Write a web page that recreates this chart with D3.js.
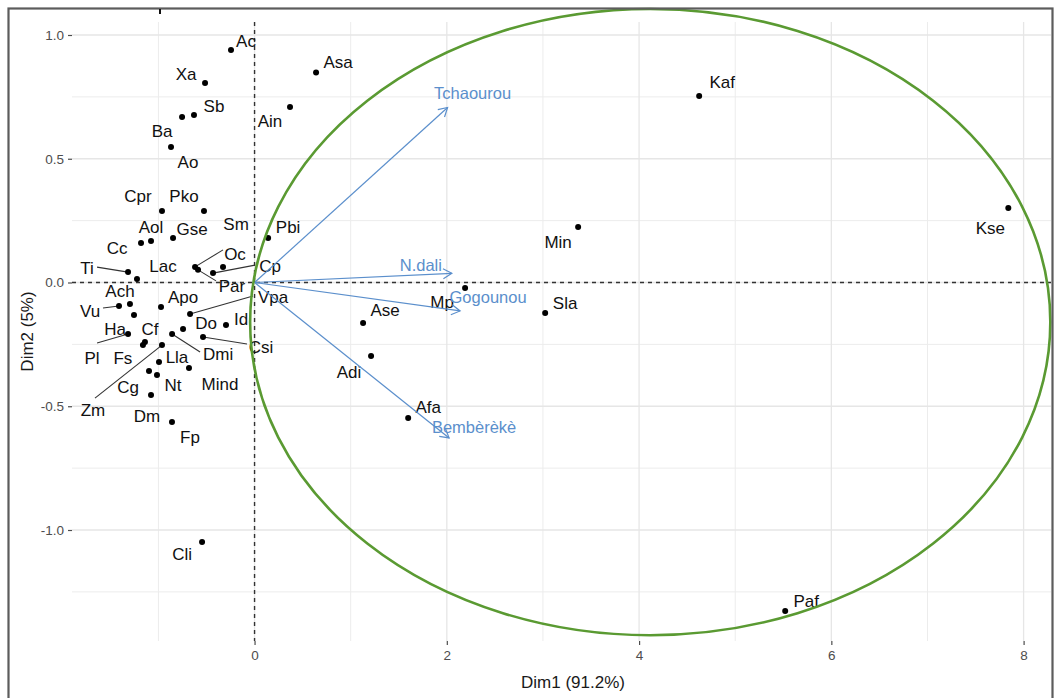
<!DOCTYPE html>
<html>
<head>
<meta charset="utf-8">
<script src="https://cdn.jsdelivr.net/npm/d3@7"></script>
<style>
  html, body { margin: 0; padding: 0; background: #fff; }
  svg { display: block; font-family: "Liberation Sans", Arial, sans-serif; }
</style>
</head>
<body>
<svg id="chart" width="1055" height="698"></svg>
<script>
// ---------------- DATA ----------------
const names = ["Ac","Asa","Xa","Sb","Ba","Ao","Ain","Cpr","Pko","Cc","Aol","Gse","Sm","Lac","Par","Oc","Cp","Ti","Ach","Vu","Ha","Apo","Vpa","Do","Id","Pl","Cf","Fs","Dmi","Csi","Zm","Lla","Cg","Nt","Mind","Dm","Fp","Cli","Pbi","Ase","Adi","Afa","Mp","Sla","Min","Kaf","Kse","Paf"];
const dim1 = [-0.245,0.640,-0.515,-0.630,-0.754,-0.869,0.369,-0.963,-0.526,-1.181,-1.077,-0.848,-0.619,-1.223,-0.588,-0.328,-0.432,-1.316,-1.296,-1.410,-1.254,-0.973,-0.671,-0.744,-0.297,-1.316,-1.140,-1.161,-0.858,-0.536,-0.963,-0.994,-1.098,-1.015,-0.682,-1.077,-0.859,-0.546,0.141,1.129,1.212,1.598,2.190,3.023,3.366,4.625,7.841,5.520];
const dim2 = [0.939,0.848,0.806,0.677,0.669,0.547,0.709,0.289,0.289,0.160,0.168,0.180,0.063,0.014,0.051,0.063,0.038,0.042,-0.087,-0.095,-0.131,-0.099,-0.127,-0.188,-0.172,-0.208,-0.240,-0.253,-0.208,-0.220,-0.253,-0.321,-0.358,-0.374,-0.345,-0.455,-0.564,-1.048,0.180,-0.164,-0.297,-0.547,-0.022,-0.123,0.224,0.754,0.301,-1.327];

const varNames = ["Tchaourou","N.dali","Gogounou","Bembèrèkè"];
const varDim1 = [2.008, 2.052, 2.138, 2.024];
const varDim2 = [0.707, 0.037, -0.115, -0.628];

const xTicks = [0, 2, 4, 6, 8];
const yTicks = [-1.0, -0.5, 0.0, 0.5, 1.0];
const xTickLabels = ["0","2","4","6","8"];
const yTickLabels = ["-1.0","-0.5","0.0","0.5","1.0"];
const xTitle = "Dim1 (91.2%)";
const yTitle = "Dim2 (5%)";

// highlighted group ellipse: centre (dim1, dim2) and radii (dim1, dim2)
const ellipseCentre = [4.116, -0.160];
const ellipseRadii = [4.162, 1.265];

// ---------------- LAYOUT (label placement, pixels relative to point) ----------------
const labelOffset = {
  Ac:[15,-9], Asa:[22,-11], Xa:[-19,-9], Sb:[20,-9], Ba:[-20,14], Ao:[17,15], Ain:[-20,14],
  Cpr:[-24,-15], Pko:[-20,-15], Cc:[-24,5], Aol:[0,-14], Gse:[19,-9], Sm:[41,-43], Lac:[26,-13],
  Par:[34,16], Oc:[12,-13], Cp:[57,-7], Ti:[-41,-4], Ach:[-10,-13], Vu:[-29,5], Ha:[-19,14],
  Apo:[22,-10], Vpa:[83,-17], Do:[23,-6], Id:[15,-6], Pl:[-36,24], Cf:[5,-13], Fs:[-20,13],
  Dmi:[46,20], Csi:[58,10], Zm:[-69,65], Lla:[18,-5], Cg:[-21,16], Nt:[16,10], Mind:[31,16],
  Dm:[-4,21], Fp:[18,15], Cli:[-20,12], Pbi:[20,-11], Ase:[22,-13], Adi:[-22,16], Afa:[20,-11],
  Mp:[-23,14], Sla:[20,-10], Min:[-20,15], Kaf:[23,-14], Kse:[-18,20], Paf:[21,-10]
};
const leaderEnd = {
  Sm:[28,-17], Par:[18,11], Cp:[42,-8], Ti:[-31,-5], Vu:[-16,2], Vpa:[63,-18],
  Pl:[-31,9], Dmi:[28,18], Csi:[44,7], Zm:[-67,53]
};
const varLabelOffset = { "Tchaourou":[25,-14], "N.dali":[-31,-8], "Gogounou":[28,-14], "Bembèrèkè":[25,-11] };

// ---------------- CHART ----------------
const svg = d3.select("#chart");
const panel = {left: 72, right: 1051, top: 22, bottom: 641};

const x = d3.scaleLinear().domain([-1.899, 8.285]).range([panel.left, panel.right]);
const y = d3.scaleLinear().domain([-1.4485, 1.0525]).range([panel.bottom, panel.top]);

// grid
const g = svg.append("g");
const xMinor = d3.range(-1, 9, 1).filter(v => !xTicks.includes(v));
const yMinor = d3.range(-1.25, 1.01, 0.25).filter(v => !yTicks.some(t => Math.abs(t - v) < 1e-6));
g.selectAll(".vminor").data(xMinor).enter().append("line")
  .attr("x1", d => x(d)).attr("x2", d => x(d)).attr("y1", panel.top).attr("y2", panel.bottom)
  .attr("stroke", "#ececec").attr("stroke-width", 1);
g.selectAll(".hminor").data(yMinor).enter().append("line")
  .attr("y1", d => y(d)).attr("y2", d => y(d)).attr("x1", panel.left).attr("x2", panel.right)
  .attr("stroke", "#ececec").attr("stroke-width", 1);
g.selectAll(".vmajor").data(xTicks).enter().append("line")
  .attr("x1", d => x(d)).attr("x2", d => x(d)).attr("y1", panel.top).attr("y2", panel.bottom)
  .attr("stroke", "#e6e6e6").attr("stroke-width", 1.3);
g.selectAll(".hmajor").data(yTicks).enter().append("line")
  .attr("y1", d => y(d)).attr("y2", d => y(d)).attr("x1", panel.left).attr("x2", panel.right)
  .attr("stroke", "#e6e6e6").attr("stroke-width", 1.3);

// axes
const xAxis = d3.axisBottom(x).tickValues(xTicks).tickFormat((d,i) => xTickLabels[i]).tickSize(4).tickPadding(5);
const yAxis = d3.axisLeft(y).tickValues(yTicks).tickFormat((d,i) => yTickLabels[yTicks.indexOf(d)]).tickSize(4).tickPadding(4);
const gx = svg.append("g").attr("transform", `translate(0,${panel.bottom})`).call(xAxis);
const gy = svg.append("g").attr("transform", `translate(${panel.left},0)`).call(yAxis);
[gx, gy].forEach(a => {
  a.select(".domain").remove();
  a.selectAll(".tick line").attr("stroke", "#4d4d4d").attr("stroke-width", 1.2);
  a.selectAll(".tick text").attr("fill", "#4d4d4d").style("font-size", "13.5px")
    .style("font-family", "'Liberation Sans', Arial, sans-serif");
});

// axis titles
svg.append("text").attr("x", 573).attr("y", 688).attr("text-anchor", "middle")
  .style("font-size", "17px").attr("fill", "#1a1a1a").text(xTitle);
svg.append("text").attr("transform", `translate(33,${(panel.top + panel.bottom) / 2}) rotate(-90)`)
  .attr("text-anchor", "middle").style("font-size", "17px").attr("fill", "#1a1a1a").text(yTitle);

// dashed reference lines
svg.append("line").attr("x1", x(0)).attr("x2", x(0)).attr("y1", panel.top).attr("y2", panel.bottom)
  .attr("stroke", "#333").attr("stroke-width", 1.4).attr("stroke-dasharray", "4,4");
svg.append("line").attr("y1", y(0)).attr("y2", y(0)).attr("x1", panel.left).attr("x2", panel.right)
  .attr("stroke", "#333").attr("stroke-width", 1.4).attr("stroke-dasharray", "4,4");

// individuals
const inds = names.map((n, i) => ({name: n, d1: dim1[i], d2: dim2[i]}));

// leader segments
svg.append("g").selectAll("line").data(inds.filter(d => leaderEnd[d.name])).enter().append("line")
  .attr("x1", d => x(d.d1)).attr("y1", d => y(d.d2))
  .attr("x2", d => x(d.d1) + leaderEnd[d.name][0]).attr("y2", d => y(d.d2) + leaderEnd[d.name][1])
  .attr("stroke", "#333").attr("stroke-width", 1.1);

svg.append("g").selectAll("circle").data(inds).enter().append("circle")
  .attr("cx", d => x(d.d1)).attr("cy", d => y(d.d2)).attr("r", 3).attr("fill", "#000");

svg.append("g").selectAll("text").data(inds).enter().append("text")
  .attr("x", d => x(d.d1) + labelOffset[d.name][0])
  .attr("y", d => y(d.d2) + labelOffset[d.name][1])
  .attr("dy", "0.35em").attr("text-anchor", "middle")
  .style("font-size", "17px").attr("fill", "#111").text(d => d.name);

// variable arrows
const arrowColor = "#5b8fcc";
const vars = varNames.map((n, i) => ({name: n, d1: varDim1[i], d2: varDim2[i]}));
const va = svg.append("g");
vars.forEach(v => {
  const x0 = x(0), y0 = y(0), x1 = x(v.d1), y1 = y(v.d2);
  va.append("line").attr("x1", x0).attr("y1", y0).attr("x2", x1).attr("y2", y1)
    .attr("stroke", arrowColor).attr("stroke-width", 1.2);
  const ang = Math.atan2(y1 - y0, x1 - x0), L = 10, a = Math.PI / 6;
  const p1 = [x1 - L * Math.cos(ang - a), y1 - L * Math.sin(ang - a)];
  const p2 = [x1 - L * Math.cos(ang + a), y1 - L * Math.sin(ang + a)];
  va.append("path").attr("d", `M${p1[0]},${p1[1]}L${x1},${y1}L${p2[0]},${p2[1]}`)
    .attr("fill", "none").attr("stroke", arrowColor).attr("stroke-width", 1.2);
  va.append("text").attr("x", x1 + varLabelOffset[v.name][0]).attr("y", y1 + varLabelOffset[v.name][1])
    .attr("dy", "0.35em").attr("text-anchor", "middle").style("font-size", "16.5px")
    .attr("fill", arrowColor).text(v.name);
});

// highlighted ellipse
svg.append("ellipse")
  .attr("cx", x(ellipseCentre[0])).attr("cy", y(ellipseCentre[1]))
  .attr("rx", x(ellipseCentre[0] + ellipseRadii[0]) - x(ellipseCentre[0]))
  .attr("ry", y(ellipseCentre[1]) - y(ellipseCentre[1] + ellipseRadii[1]))
  .attr("fill", "none").attr("stroke", "#5a9a32").attr("stroke-width", 2.6);

// image frame
svg.append("rect").attr("x", 8.5).attr("y", 8.5).attr("width", 1044).attr("height", 692)
  .attr("fill", "none").attr("stroke", "#5c5c5c").attr("stroke-width", 2.2);
svg.append("line").attr("x1", 160).attr("x2", 160).attr("y1", 9).attr("y2", 14)
  .attr("stroke", "#111").attr("stroke-width", 2);
</script>
</body>
</html>
